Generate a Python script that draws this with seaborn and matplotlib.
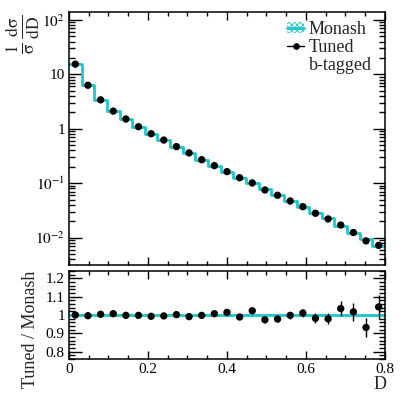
import numpy as np
import pandas as pd
import matplotlib
matplotlib.use("Agg")
import matplotlib.pyplot as plt
import seaborn as sns
from matplotlib.lines import Line2D
from matplotlib.patches import Patch
from matplotlib.ticker import FixedLocator, FuncFormatter, LogLocator, MultipleLocator, NullFormatter

# ---------------- data ----------------
bin_lo = 0.0
bin_hi = 0.8
n_bins = 25
tuned = [15.4, 6.3, 3.4, 2.11, 1.51, 1.09, 0.81, 0.62, 0.47, 0.36, 0.27, 0.21, 0.163,
         0.126, 0.101, 0.075, 0.060, 0.047, 0.037, 0.028, 0.022, 0.017, 0.0124, 0.0087, 0.0072]
monash = [15.4, 6.33, 3.39, 2.10, 1.51, 1.09, 0.816, 0.623, 0.469, 0.363, 0.271, 0.209, 0.161,
          0.127, 0.099, 0.077, 0.061, 0.047, 0.0366, 0.0285, 0.0225, 0.0165, 0.0122, 0.0093, 0.0069]
ratio = [1.000, 0.996, 1.004, 1.007, 0.998, 0.998, 0.993, 0.995, 1.002, 0.991, 0.998, 1.007, 1.014,
         0.989, 1.023, 0.974, 0.978, 0.998, 1.011, 0.982, 0.979, 1.035, 1.017, 0.932, 1.044]
ratio_err = [0.002, 0.003, 0.003, 0.004, 0.004, 0.005, 0.006, 0.006, 0.007, 0.008, 0.009, 0.010, 0.011,
             0.012, 0.013, 0.015, 0.016, 0.018, 0.024, 0.027, 0.030, 0.040, 0.050, 0.050, 0.064]
monash_band = 0.006
legend_labels = ["Monash", "Tuned", "b-tagged"]
x_ticks = [0, 0.2, 0.4, 0.6, 0.8]
x_ticklabels = ["0", "0.2", "0.4", "0.6", "0.8"]
r_ticks = [0.8, 0.9, 1.0, 1.1, 1.2]
r_ticklabels = ["0.8", "0.9", "1", "1.1", "1.2"]

edges = np.linspace(bin_lo, bin_hi, n_bins + 1)
centers = 0.5 * (edges[:-1] + edges[1:])
df = pd.DataFrame({"D": centers, "tuned": tuned, "monash": monash,
                   "ratio": ratio, "ratio_err": ratio_err})
df["tuned_err"] = df["tuned"] * df["ratio_err"]
step = pd.DataFrame({"edge": edges,
                     "monash": list(monash) + [monash[-1]],
                     "one": np.ones(n_bins + 1)})

# ---------------- style ----------------
sns.set_theme(style="ticks")
plt.rcParams["font.family"] = ["Liberation Serif", "DejaVu Serif"]
plt.rcParams["mathtext.fontset"] = "stix"
plt.rcParams["hatch.linewidth"] = 0.6
CYAN = "#1cc8c8"

fig = plt.figure(figsize=(4.07, 3.98), dpi=100)
ax1 = fig.add_axes([0.1695, 0.3354, 0.7764, 0.6332])
ax2 = fig.add_axes([0.1695, 0.0980, 0.7764, 0.2211])

# main panel
sns.lineplot(data=step, x="edge", y="monash", drawstyle="steps-post", estimator=None,
             color=CYAN, linewidth=2.0, ax=ax1, zorder=2)
ax1.errorbar(df["D"], df["tuned"], yerr=df["tuned_err"], fmt="none", ecolor="black",
             elinewidth=1.0, zorder=3)
sns.scatterplot(data=df, x="D", y="tuned", color="black", s=28, edgecolor="none",
                ax=ax1, zorder=4)
ax1.set_yscale("log")
ax1.set_xlim(bin_lo, bin_hi)
ax1.set_ylim(0.0032, 137)
ax1.set_xlabel("")
ax1.set_ylabel("")

def logfmt(v, pos):
    e = int(round(np.log10(v)))
    if e == 0:
        return "1"
    if e == 1:
        return "10"
    return r"$10^{%d}$" % e

ax1.yaxis.set_major_locator(FixedLocator([1e-2, 1e-1, 1, 10, 100]))
ax1.yaxis.set_major_formatter(FuncFormatter(logfmt))
ax1.yaxis.set_minor_locator(LogLocator(base=10, subs=np.arange(2, 10), numticks=20))
ax1.yaxis.set_minor_formatter(NullFormatter())
ax1.xaxis.set_major_locator(FixedLocator(x_ticks))
ax1.xaxis.set_minor_locator(MultipleLocator(0.05))
ax1.set_xticklabels([])

# ratio panel
ax2.fill_between([bin_lo, bin_hi], 1 - monash_band, 1 + monash_band, facecolor="none",
                 edgecolor=CYAN, hatch="xxxxxx", linewidth=0, zorder=1)
sns.lineplot(data=step, x="edge", y="one", drawstyle="steps-post", estimator=None,
             color=CYAN, linewidth=2.0, ax=ax2, zorder=2)
ax2.errorbar(df["D"], df["ratio"], yerr=df["ratio_err"], fmt="none", ecolor="black",
             elinewidth=1.0, zorder=3)
sns.scatterplot(data=df, x="D", y="ratio", color="black", s=28, edgecolor="none",
                ax=ax2, zorder=4)
ax2.set_xlim(bin_lo, bin_hi)
ax2.set_ylim(0.76, 1.24)
ax2.set_xlabel("")
ax2.set_ylabel("")
ax2.xaxis.set_major_locator(FixedLocator(x_ticks))
ax2.set_xticklabels(x_ticklabels)
ax2.xaxis.set_minor_locator(MultipleLocator(0.05))
ax2.yaxis.set_major_locator(FixedLocator(r_ticks))
ax2.set_yticklabels(r_ticklabels)
ax2.yaxis.set_minor_locator(MultipleLocator(0.02))

for ax in (ax1, ax2):
    for sp in ax.spines.values():
        sp.set_visible(True)
        sp.set_linewidth(1.1)
        sp.set_color("black")
        sp.set_zorder(5)
    ax.tick_params(which="both", direction="in", top=True, right=True,
                   labelsize=11, colors="black", width=1.0, pad=3)
    ax.tick_params(axis="y", which="major", length=9)
    ax.tick_params(axis="y", which="minor", length=4.5)
    ax.tick_params(axis="x", which="major", length=6)
    ax.tick_params(axis="x", which="minor", length=3)
    ax.set_facecolor("white")

# axis titles
fig.text(0.057, 0.963, r"$\mathrm{\frac{1}{\sigma}\,\frac{d\sigma}{dD}}$", rotation=90,
         ha="center", va="top", fontsize=18)
fig.text(0.074, 0.173, "Tuned / Monash", rotation=90, ha="center", va="center", fontsize=13)
fig.text(0.934, 0.033, "D", ha="center", va="center", fontsize=13)

# legend
h_monash = (Patch(facecolor="none", edgecolor=CYAN, hatch="xxxxxx", linewidth=0),
            Line2D([], [], color=CYAN, linewidth=2.0))
h_tuned = Line2D([], [], color="black", marker="o", markersize=3.8, linewidth=1.0)
h_blank = Line2D([], [], color="none")
ax1.legend([h_monash, h_tuned, h_blank], legend_labels, loc="upper left",
           bbox_to_anchor=(0.706, 0.947), bbox_transform=fig.transFigure,
           frameon=False, fontsize=13, handlelength=0.95, handleheight=0.6,
           handletextpad=0.25, labelspacing=0.05, borderpad=0, borderaxespad=0)

fig.savefig("out.png", dpi=100, facecolor="white")
